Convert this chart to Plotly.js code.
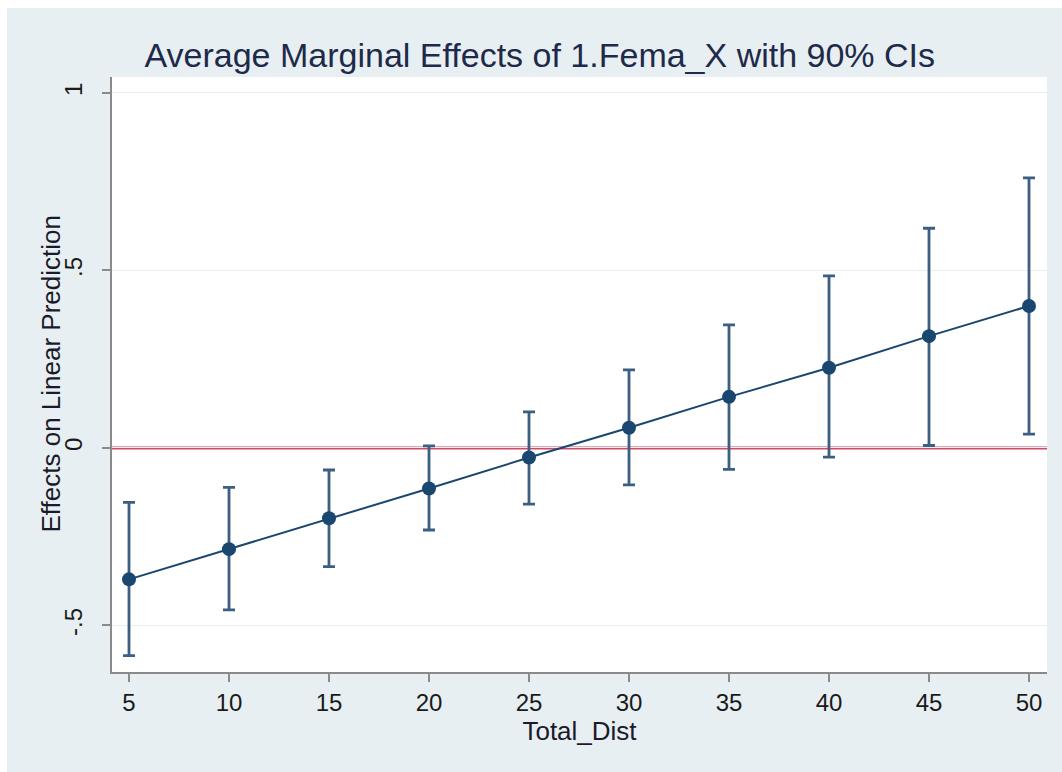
<!DOCTYPE html>
<html>
<head>
<meta charset="utf-8">
<script src="https://cdn.plot.ly/plotly-3.0.1.min.js"></script>
<style>
html,body{margin:0;padding:0;background:#ffffff;}
#chart{position:absolute;left:7px;top:8px;width:1055px;height:764px;}
</style>
</head>
<body>
<div id="chart"></div>
<script>
// Data
const totalDist = [5, 10, 15, 20, 25, 30, 35, 40, 45, 50];
const margEffect = [-0.370, -0.285, -0.198, -0.114, -0.027, 0.057, 0.144, 0.226, 0.315, 0.400];
const ciUpper = [-0.153, -0.111, -0.062, 0.006, 0.102, 0.220, 0.347, 0.485, 0.619, 0.761];
const ciLower = [-0.585, -0.456, -0.334, -0.231, -0.158, -0.104, -0.060, -0.026, 0.007, 0.039];
const xTicks = [5, 10, 15, 20, 25, 30, 35, 40, 45, 50];
const yTickVals = [-0.5, 0, 0.5, 1];
const yTickText = ['-.5', '0', '.5', '1'];

const errPlus = margEffect.map((v, i) => ciUpper[i] - v);
const errMinus = margEffect.map((v, i) => v - ciLower[i]);

const FONT = 'Liberation Sans, Arial, Helvetica, sans-serif';

const traces = [{
  x: totalDist,
  y: margEffect,
  type: 'scatter',
  mode: 'lines+markers',
  line: {color: '#1a476f', width: 2},
  marker: {color: '#1a476f', size: 14},
  error_y: {
    type: 'data', symmetric: false,
    array: errPlus, arrayminus: errMinus,
    color: '#3a5f82', thickness: 2.8, width: 6
  },
  hoverinfo: 'x+y'
}];

const layout = {
  width: 1055, height: 764,
  paper_bgcolor: '#e8eff2',
  plot_bgcolor: '#ffffff',
  margin: {l: 105, r: 15, t: 69, b: 100},
  showlegend: false,
  title: {
    text: 'Average Marginal Effects of 1.Fema_X with 90% CIs',
    font: {family: FONT, size: 34, color: '#1e2a4a'},
    x: 0.505, xref: 'container', xanchor: 'center',
    y: 1 - 47 / 764, yref: 'container', yanchor: 'middle'
  },
  xaxis: {
    range: [4.15, 50.9],
    tickvals: xTicks,
    ticktext: xTicks.map(String),
    showgrid: false, zeroline: false,
    showline: true, linecolor: '#8a8a8a', linewidth: 2,
    ticks: 'outside', ticklen: 8, tickwidth: 2, tickcolor: '#8a8a8a',
    tickfont: {family: FONT, size: 24, color: '#1a1a1a'},
    title: {text: 'Total_Dist', font: {family: FONT, size: 26, color: '#1a1a2a'}, standoff: 2}
  },
  yaxis: {
    range: [-0.631, 1.045],
    tickvals: yTickVals,
    ticktext: yTickText,
    tickangle: -90,
    showgrid: true, gridcolor: '#e6eff1', gridwidth: 1,
    zeroline: false,
    showline: true, linecolor: '#8a8a8a', linewidth: 2,
    ticks: 'outside', ticklen: 8, tickwidth: 2, tickcolor: '#8a8a8a',
    ticklabelstandoff: 10,
    tickfont: {family: FONT, size: 24, color: '#1a1a1a'}
  },
  annotations: [{
    text: 'Effects on Linear Prediction',
    xref: 'paper', yref: 'paper', x: -0.0663, y: 0.5,
    xanchor: 'center', yanchor: 'middle', textangle: -90, showarrow: false,
    font: {family: FONT, size: 26, color: '#1a1a2a'}
  }],
  shapes: [{
    type: 'line', xref: 'paper', x0: 0, x1: 1, yref: 'y', y0: 0, y1: 0,
    line: {color: '#cf4a66', width: 3}, layer: 'between'
  }]
};

Plotly.newPlot('chart', traces, layout, {displayModeBar: false, staticPlot: true});
</script>
</body>
</html>
